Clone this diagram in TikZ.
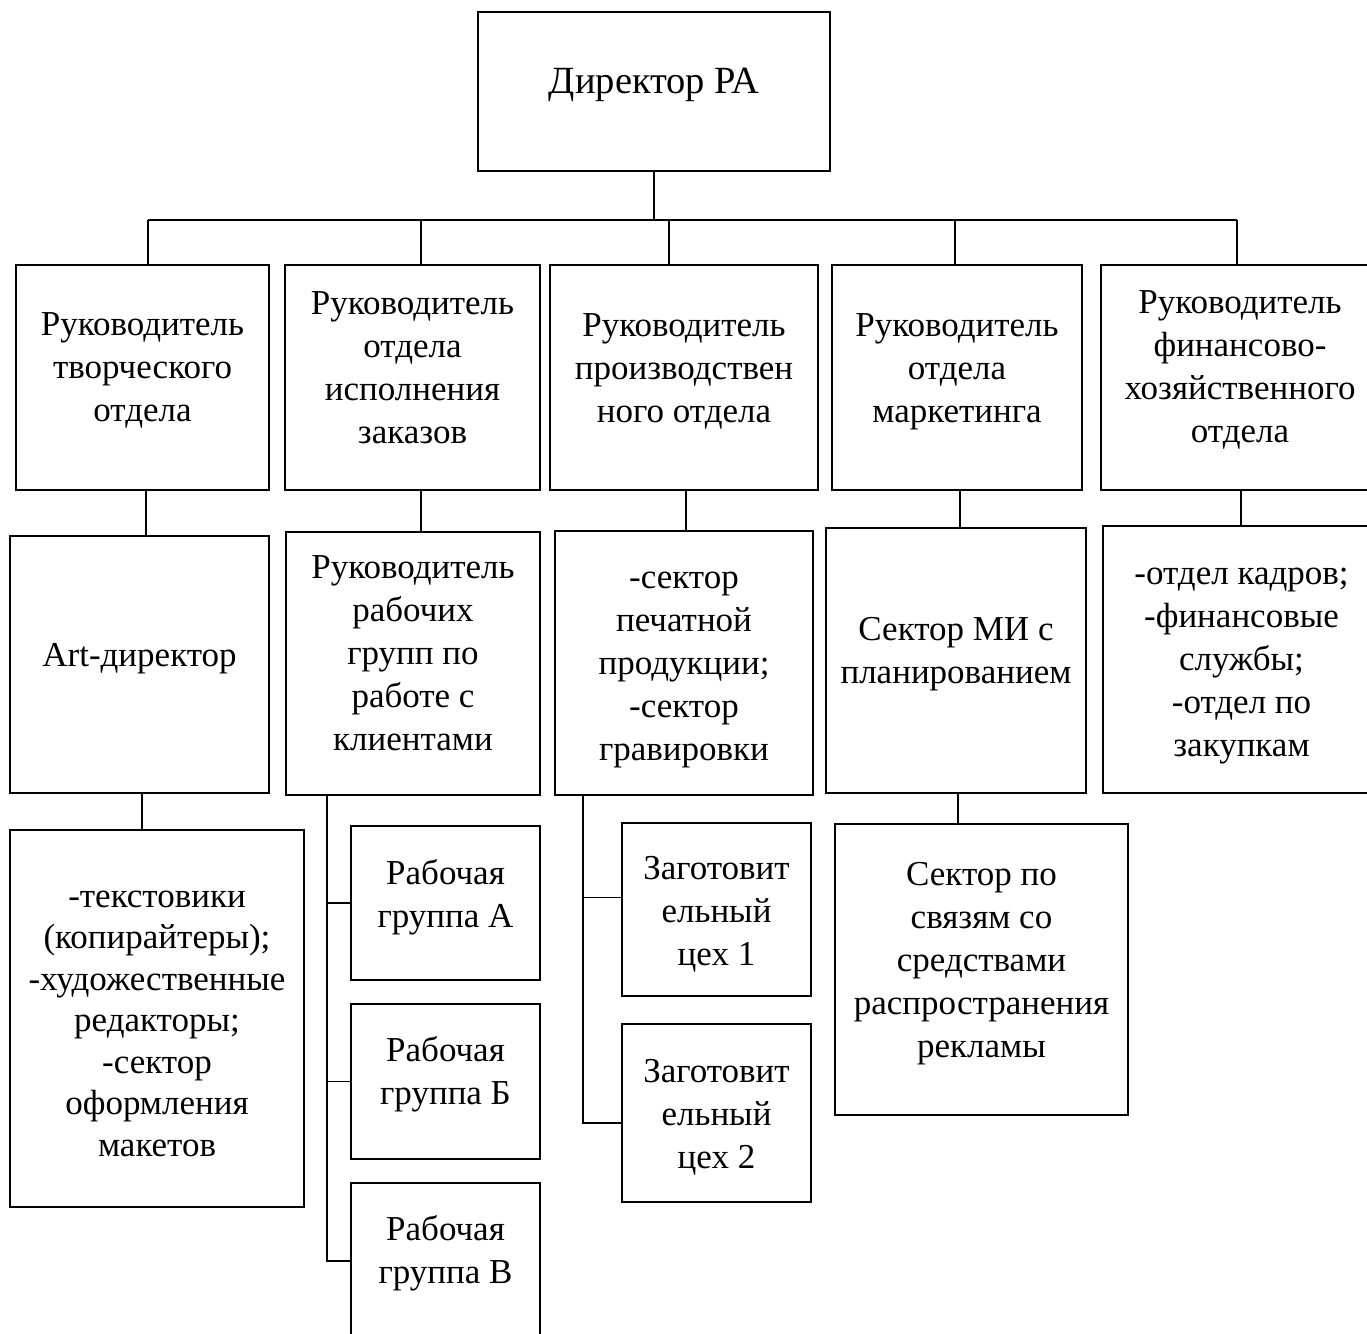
\documentclass[tikz,border=0pt]{standalone}
\usepackage{fontspec}
\setmainfont{Liberation Serif}
\usetikzlibrary{positioning}

\tikzset{
  blok/.style={draw, line width=1.2pt, inner sep=0pt},
  tekst/.style={align=center, inner sep=0pt, font=\fontsize{35}{43}\selectfont},
  linia/.style={line width=1.2pt},
}

\begin{document}
\begin{tikzpicture}[x=1pt,y=-1pt]
\useasboundingbox (0,0) rectangle (1367,1333);
\clip (0,0) rectangle (1367,1333);

% Директор
\node[blok, minimum width=352pt, minimum height=159pt,
  label={[tekst,font=\fontsize{38.5}{45}\selectfont,yshift=7pt]center:Директор РА}] (dir) at (654,91.5) {};

% Руководители отделов
\node[blok, minimum width=253pt, minimum height=225pt,
  label={[tekst,yshift=7pt]center:Руководитель\\творческого\\отдела}] (r1) at (142.5,377.5) {};
\node[blok, minimum width=255pt, minimum height=225pt,
  label={[tekst,yshift=10pt]center:Руководитель\\отдела\\исполнения\\заказов}] (r2) at (412.5,377.5) {};
\node[blok, minimum width=268pt, minimum height=225pt,
  label={[tekst,yshift=6pt]center:Руководитель\\производствен\\ного отдела}] (r3) at (684,377.5) {};
\node[blok, minimum width=250pt, minimum height=225pt,
  label={[tekst,yshift=6pt]center:Руководитель\\отдела\\маркетинга}] (r4) at (957,377.5) {};
\node[blok, minimum width=278pt, minimum height=225pt,
  label={[tekst,yshift=8pt]center:Руководитель\\финансово-\\хозяйственного\\отдела}] (r5) at (1240,377.5) {};

% Второй уровень
\node[blok, minimum width=259pt, minimum height=257pt,
  label={[tekst,yshift=6pt]center:Art-директор}] (a2) at (139.5,664.5) {};
\node[blok, minimum width=254pt, minimum height=263pt,
  label={[tekst,yshift=10pt]center:Руководитель\\рабочих\\групп по\\работе с\\клиентами}] (b2) at (413,663.5) {};
\node[blok, minimum width=258pt, minimum height=264pt,
  label={[tekst,yshift=-7pt]center:-сектор\\печатной\\продукции;\\-сектор\\гравировки}] (c2) at (684,663) {};
\node[blok, minimum width=260pt, minimum height=265pt,
  label={[tekst,yshift=6pt]center:Сектор МИ с\\планированием}] (d2) at (956,660.5) {};
\node[blok, minimum width=277pt, minimum height=267pt,
  label={[tekst,yshift=-7pt]center:-отдел кадров;\\-финансовые\\службы;\\-отдел по\\закупкам}] (e2) at (1241.5,659.5) {};

% Третий уровень
\node[blok, minimum width=294pt, minimum height=377pt,
  label={[tekst,font=\fontsize{35}{41.5}\selectfont,yshift=-5pt]center:-текстовики\\(копирайтеры);\\-художественные\\редакторы;\\-сектор\\оформления\\макетов}] (a3) at (157,1018.5) {};
\node[blok, minimum width=189pt, minimum height=154pt,
  label={[tekst,yshift=6pt]center:Рабочая\\группа А}] (ga) at (445.5,903) {};
\node[blok, minimum width=189pt, minimum height=155pt,
  label={[tekst,yshift=7pt]center:Рабочая\\группа Б}] (gb) at (445.5,1081.5) {};
\node[blok, minimum width=189pt, minimum height=156pt,
  label={[tekst,yshift=8pt]center:Рабочая\\группа В}] (gv) at (445.5,1261) {};
\node[blok, minimum width=189pt, minimum height=173pt,
  label={[tekst,yshift=-5pt]center:Заготовит\\ельный\\цех 1}] (z1) at (716.5,909.5) {};
\node[blok, minimum width=189pt, minimum height=178pt,
  label={[tekst,yshift=-4pt]center:Заготовит\\ельный\\цех 2}] (z2) at (716.5,1113) {};
\node[blok, minimum width=293pt, minimum height=291pt,
  label={[tekst,yshift=6pt]center:Сектор по\\связям со\\средствами\\распространения\\рекламы}] (d3) at (981.5,969.5) {};

% Шина от директора
\coordinate (sL) at (148,220);
\coordinate (sR) at (1237,220);
\draw[linia] (dir.south) -- (dir.south |- sL);
\draw[linia] (sL) -- (sR);
\foreach \x/\n in {148/r1, 421/r2, 669/r3, 955/r4, 1237/r5} {
    \coordinate (p\n) at (\x,220);
    \draw[linia] (p\n) -- (p\n |- \n.north);
}

% Отделы -> второй уровень
\foreach \x/\a/\b in {146/r1/a2, 421/r2/b2, 686/r3/c2, 960/r4/d2, 1241/r5/e2,
                      142/a2/a3, 958/d2/d3} {
    \coordinate (q\a) at (\x,0);
    \draw[linia] (\a.south -| q\a) -- (\b.north -| q\a);
}

% Рабочие группы
\coordinate (kb) at (327,0);
\draw[linia] (b2.south -| kb) |- (gv.west);
\draw[linia] (kb |- ga.west) -- (ga.west);
\draw[linia] (kb |- gb.west) -- (gb.west);

% Заготовительные цеха
\coordinate (kc) at (583,0);
\coordinate (z1w) at ([yshift=12pt]z1.west);
\coordinate (z2w) at ([yshift=-10pt]z2.west);
\draw[linia] (c2.south -| kc) |- (z2w);
\draw[linia] (z1w -| kc) -- (z1w);

\end{tikzpicture}
\end{document}
